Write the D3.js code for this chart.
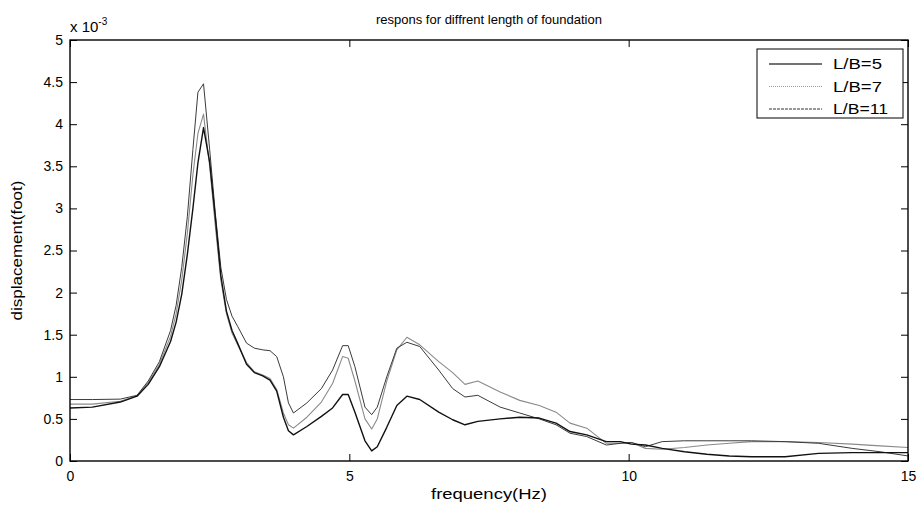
<!DOCTYPE html>
<html><head><meta charset="utf-8">
<script src="https://cdn.jsdelivr.net/npm/d3@7"></script>
<style>
html,body{margin:0;padding:0;background:#fff;}
text{font-family:"Liberation Sans",Arial,sans-serif;fill:#000;}
</style></head>
<body>
<svg id="chart" width="918" height="506"></svg>
<script>
const freq = [0,0.4,0.9,1.2,1.4,1.6,1.8,1.9,2.0,2.1,2.2,2.29,2.39,2.5,2.6,2.7,2.8,2.9,3.0,3.16,3.3,3.45,3.58,3.7,3.82,3.91,4.0,4.24,4.5,4.7,4.88,4.98,5.1,5.28,5.4,5.5,5.67,5.85,6.03,6.26,6.6,6.85,7.07,7.3,7.7,8.05,8.4,8.7,8.95,9.25,9.6,9.85,10.05,10.3,10.6,11.0,11.4,11.8,12.2,12.8,13.4,14.0,14.5,15];

const lb5 = [0.63,0.64,0.70,0.77,0.91,1.12,1.42,1.65,1.98,2.45,3.0,3.54,3.96,3.55,2.9,2.2,1.78,1.55,1.40,1.15,1.05,1.01,0.96,0.83,0.52,0.36,0.31,0.41,0.53,0.63,0.79,0.79,0.58,0.24,0.12,0.17,0.40,0.66,0.77,0.73,0.58,0.49,0.43,0.47,0.50,0.52,0.51,0.45,0.35,0.31,0.23,0.23,0.20,0.19,0.15,0.11,0.08,0.06,0.05,0.05,0.09,0.10,0.10,0.10];

const lb7 = [0.675,0.675,0.71,0.775,0.93,1.15,1.48,1.75,2.15,2.7,3.4,3.89,4.12,3.5,2.8,2.15,1.75,1.52,1.38,1.17,1.06,1.02,0.98,0.85,0.57,0.43,0.39,0.52,0.70,0.92,1.24,1.22,0.95,0.50,0.38,0.50,0.95,1.32,1.47,1.38,1.18,1.05,0.91,0.95,0.82,0.72,0.66,0.58,0.45,0.39,0.21,0.21,0.22,0.15,0.14,0.16,0.19,0.21,0.23,0.23,0.22,0.20,0.18,0.16];

const lb11 = [0.73,0.73,0.735,0.78,0.95,1.18,1.55,1.85,2.3,2.9,3.7,4.38,4.48,3.7,2.95,2.3,1.92,1.72,1.6,1.40,1.34,1.32,1.31,1.24,1.00,0.69,0.57,0.69,0.86,1.08,1.37,1.37,1.12,0.64,0.55,0.64,1.00,1.34,1.41,1.36,1.08,0.86,0.76,0.78,0.64,0.57,0.50,0.43,0.33,0.29,0.19,0.21,0.22,0.17,0.23,0.24,0.24,0.24,0.24,0.23,0.21,0.15,0.11,0.06];

const seriesNames = ["L/B=5","L/B=7","L/B=11"];
const xTicks = [0,5,10,15];
const yTicks = [0,0.5,1,1.5,2,2.5,3,3.5,4,4.5,5];

const titleText = "respons for diffrent length of foundation";
const xLabel = "frequency(Hz)";
const yLabel = "displacement(foot)";

const svg = d3.select("#chart");
const L = 70, R = 908, T = 40, B = 461;
const x = d3.scaleLinear().domain([0,15]).range([L,R]);
const y = d3.scaleLinear().domain([0,5]).range([B,T]);

const series = [
  {name: seriesNames[0], values: lb5, color: "#111", width: 1.4, dash: null, legColor:"#444", legWidth:1.6, legLen:49},
  {name: seriesNames[1], values: lb7, color: "#8a8a8a", width: 1.1, dash: "1,1", legColor:"#999", legWidth:1, legLen:49},
  {name: seriesNames[2], values: lb11, color: "#3a3a3a", width: 1.0, dash: "3,1", legColor:"#333", legWidth:1, legLen:55}
];

const line = d3.line().x((d,i)=>x(freq[i])).y(d=>y(d)).curve(d3.curveLinear);

const plot = svg.append("g");
[series[1], series[2], series[0]].forEach(s=>{
  plot.append("path").datum(s.values).attr("d", line)
    .attr("fill","none").attr("stroke", s.color).attr("stroke-width", s.width)
    .attr("stroke-linejoin","round");
});

const tl = 7;
const fontStyle = g=>g.selectAll("text").style("font-size","14px").style("font-family","Liberation Sans, Arial, sans-serif");
svg.append("g").attr("transform",`translate(0,${B})`)
  .call(d3.axisBottom(x).tickValues(xTicks).tickSize(-tl).tickPadding(10).tickFormat(d3.format("d")))
  .call(g=>{g.select(".domain").remove(); fontStyle(g);});
svg.append("g").attr("transform",`translate(0,${T})`)
  .call(d3.axisTop(x).tickValues(xTicks).tickSize(-tl).tickFormat(""))
  .call(g=>g.select(".domain").remove());
svg.append("g").attr("transform",`translate(${L},0)`)
  .call(d3.axisLeft(y).tickValues(yTicks).tickSize(-tl).tickPadding(7).tickFormat(d=>String(d)))
  .call(g=>{g.select(".domain").remove(); fontStyle(g);});
svg.append("g").attr("transform",`translate(${R},0)`)
  .call(d3.axisRight(y).tickValues(yTicks).tickSize(-tl).tickFormat(""))
  .call(g=>g.select(".domain").remove());
svg.selectAll(".tick line").attr("stroke","#000").attr("stroke-width",1);

svg.append("rect").attr("x",L).attr("y",T).attr("width",R-L).attr("height",B-T)
  .attr("fill","none").attr("stroke","#000").attr("stroke-width",1.4);

const ex = svg.append("text").attr("x",L).attr("y",32).style("font-size","15px");
ex.append("tspan").text("x 10");
ex.append("tspan").attr("dy",-7).style("font-size","10px").text("-3");

svg.append("text").attr("x",(L+R)/2).attr("y",24).attr("text-anchor","middle").style("font-size","13px").text(titleText);
svg.append("text").attr("x",(L+R)/2).attr("y",499).attr("text-anchor","middle").style("font-size","15px")
  .attr("textLength",116).attr("lengthAdjust","spacingAndGlyphs").text(xLabel);
svg.append("text").attr("transform",`translate(22,${(T+B)/2}) rotate(-90)`).attr("text-anchor","middle").style("font-size","15px")
  .attr("textLength",140).attr("lengthAdjust","spacingAndGlyphs").text(yLabel);

const lg = svg.append("g");
lg.append("rect").attr("x",757).attr("y",49).attr("width",146).attr("height",69)
  .attr("fill","#fff").attr("stroke","#000").attr("stroke-width",1);
series.forEach((s,i)=>{
  const yy = 64 + i*22.5;
  lg.append("line").attr("x1",769).attr("x2",822).attr("y1",yy).attr("y2",yy)
    .attr("stroke",s.legColor).attr("stroke-width",s.legWidth).attr("stroke-dasharray",s.dash);
  lg.append("text").attr("x",833).attr("y",yy+5).style("font-size","15px")
    .attr("textLength",s.legLen).attr("lengthAdjust","spacingAndGlyphs").text(s.name);
});
</script>
</body></html>
